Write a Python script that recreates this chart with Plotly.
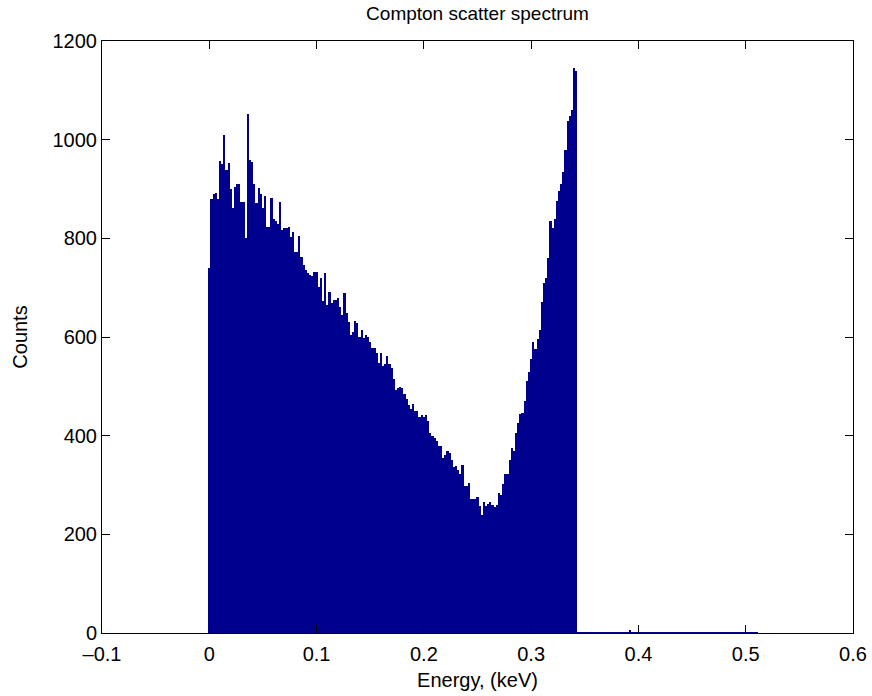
import plotly.graph_objects as go

# histogram: bin centres every 0.002 keV starting at 0
bin_width = 0.002
spectrum_counts = [
    740, 880, 890, 892, 880, 957, 950, 1010, 939, 953,
    900, 862, 904, 910, 910, 874, 874, 801, 1052, 959,
    955, 910, 872, 902, 890, 862, 886, 823, 822, 881,
    839, 836, 830, 874, 817, 820, 821, 822, 802, 812,
    773, 773, 805, 762, 746, 736, 730, 726, 724, 732,
    732, 702, 719, 672, 730, 665, 692, 668, 675, 675,
    680, 660, 645, 689, 649, 631, 604, 611, 632, 628,
    599, 614, 597, 604, 600, 590, 578, 577, 567, 547,
    567, 541, 545, 561, 545, 537, 515, 493, 496, 498,
    497, 484, 474, 462, 455, 465, 450, 450, 438, 442,
    437, 442, 430, 406, 399, 395, 390, 380, 380, 354,
    360, 368, 365, 350, 336, 338, 330, 322, 340, 298,
    297, 305, 271, 271, 272, 276, 257, 240, 266, 258,
    262, 266, 259, 256, 259, 283, 280, 302, 322, 322,
    351, 374, 368, 405, 425, 443, 445, 470, 510, 530,
    555, 590, 575, 595, 615, 670, 710, 720, 760, 836,
    820, 840, 875, 895, 910, 935, 980, 1037, 1047, 1060,
    1145, 1140,
]
# near-empty tail after the Compton edge (up to ~0.51 keV)
tail_counts = [2] * 24 + [6] + [2] * 59

counts = spectrum_counts + tail_counts
energy = [round(i * bin_width, 4) for i in range(len(counts))]

x_ticks = [-0.1, 0, 0.1, 0.2, 0.3, 0.4, 0.5, 0.6]
y_ticks = [0, 200, 400, 600, 800, 1000, 1200]

font = "Liberation Sans, Arial, Helvetica, sans-serif"

fig = go.Figure()
fig.add_trace(go.Bar(
    x=energy, y=counts, width=bin_width,
    marker=dict(color="rgb(0,0,143)", line=dict(width=0)),
    showlegend=False,
))

fig.update_layout(
    width=872, height=696,
    margin=dict(l=102, r=19, t=41, b=63),
    paper_bgcolor="white", plot_bgcolor="white",
    bargap=0,
    font=dict(family=font, size=20, color="black"),
    title=dict(text="Compton scatter spectrum", x=0.5, xref="paper",
               y=1 - 13 / 696, yanchor="middle", font=dict(size=19), automargin=False),
)
fig.update_xaxes(
    range=[-0.1, 0.6], tickvals=x_ticks, ticktext=[f"{v:g}".replace("-", "\u2013") for v in x_ticks],
    ticks="inside", ticklen=8, tickcolor="black", showline=True, linecolor="black",
    mirror="ticks", showgrid=False, zeroline=False, automargin=False,
    ticklabelstandoff=3,
    title=dict(text="Energy, (keV)", standoff=8, font=dict(size=20)),
)
fig.update_yaxes(
    range=[0, 1200], tickvals=y_ticks,
    ticks="inside", ticklen=8, tickcolor="black", showline=True, linecolor="black",
    mirror="ticks", showgrid=False, zeroline=False, automargin=False,
    title=dict(text="Counts", standoff=19, font=dict(size=20)),
)

# drop the browser's default page margin so the figure sits at the top-left corner
fig.write_html("out.html", config={"displayModeBar": False},
               post_script="document.body.style.margin='0';")
